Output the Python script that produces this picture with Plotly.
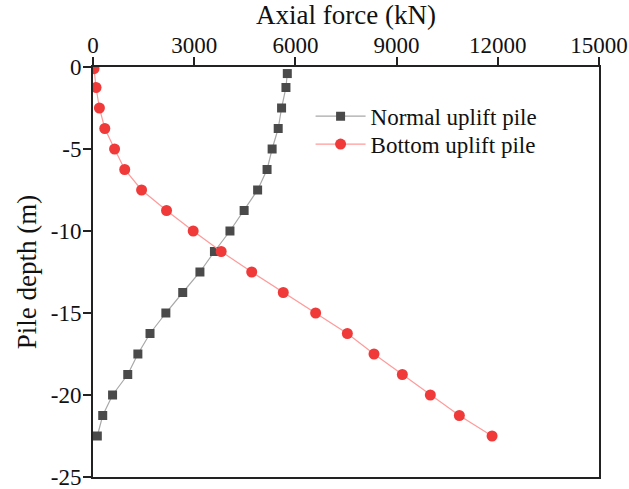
import plotly.graph_objects as go

# Pile depth (m) at each measurement section
depth_normal = [-0.4, -1.25, -2.5, -3.75, -5.0, -6.25, -7.5, -8.75, -10.0, -11.25,
                -12.5, -13.75, -15.0, -16.25, -17.5, -18.75, -20.0, -21.25, -22.5]
depth_bottom = [-0.1, -1.25, -2.5, -3.75, -5.0, -6.25, -7.5, -8.75, -10.0, -11.25,
                -12.5, -13.75, -15.0, -16.25, -17.5, -18.75, -20.0, -21.25, -22.5]

# Axial force (kN)
force_normal = [5760, 5720, 5590, 5490, 5310, 5160, 4880, 4480, 4060, 3600,
                3170, 2660, 2160, 1690, 1330, 1030, 580, 288, 128]
force_bottom = [30, 90, 190, 350, 640, 940, 1440, 2180, 2970, 3800,
                4705, 5640, 6600, 7540, 8330, 9170, 10000, 10860, 11830]

x_ticks = [0, 3000, 6000, 9000, 12000, 15000]
y_ticks = [0, -5, -10, -15, -20, -25]
y_tick_text = ["0", "-5", "-10", "-15", "-20", "-25"]

FONT = "Liberation Serif, Times New Roman, serif"

fig = go.Figure()
fig.add_trace(go.Scatter(
    x=force_normal, y=depth_normal, mode="lines+markers",
    name="Normal uplift pile", legend="legend",
    line=dict(color="#a8a8a8", width=1.2),
    marker=dict(symbol="square", size=9, color="#4a4a4a"),
    cliponaxis=False,
))
fig.add_trace(go.Scatter(
    x=force_bottom, y=depth_bottom, mode="lines+markers",
    name="Bottom uplift pile", legend="legend2",
    line=dict(color="#ff9a9a", width=1.2),
    marker=dict(symbol="circle", size=11, color="#f03a3a"),
    cliponaxis=True,
))

axis_common = dict(
    showline=True, linecolor="#222222", linewidth=2, mirror=True,
    ticks="outside", ticklen=8, tickwidth=1.5, tickcolor="#222222",
    showgrid=False, zeroline=False, automargin=False,
    ticklabeloverflow="allow",
    tickfont=dict(family=FONT, size=23, color="#111111"),
)

legend_common = dict(
    xanchor="left", yanchor="middle",
    bgcolor="rgba(0,0,0,0)", borderwidth=0,
    font=dict(family=FONT, size=23, color="#111111"),
    itemwidth=50,
)

fig.update_layout(
    width=629, height=489,
    margin=dict(l=93, r=30, t=67, b=12, autoexpand=False),
    paper_bgcolor="white", plot_bgcolor="white",
    font=dict(family=FONT, color="#111111"),
    xaxis=dict(
        axis_common, side="top", range=[0, 15000], ticklabelstandoff=-5,
        tickvals=x_ticks, ticktext=[str(v) for v in x_ticks],
        title=dict(text="Axial force (kN)", font=dict(family=FONT, size=27), standoff=4),
    ),
    yaxis=dict(
        axis_common, range=[-25, 0], ticklabelstandoff=-3,
        tickvals=y_ticks, ticktext=y_tick_text,
        title=dict(text="Pile depth (m)", font=dict(family=FONT, size=27), standoff=6),
    ),
    legend=dict(legend_common, x=0.43, y=0.88),
    legend2=dict(legend_common, x=0.43, y=0.812),
    showlegend=True,
)

fig.write_html("out.html")
